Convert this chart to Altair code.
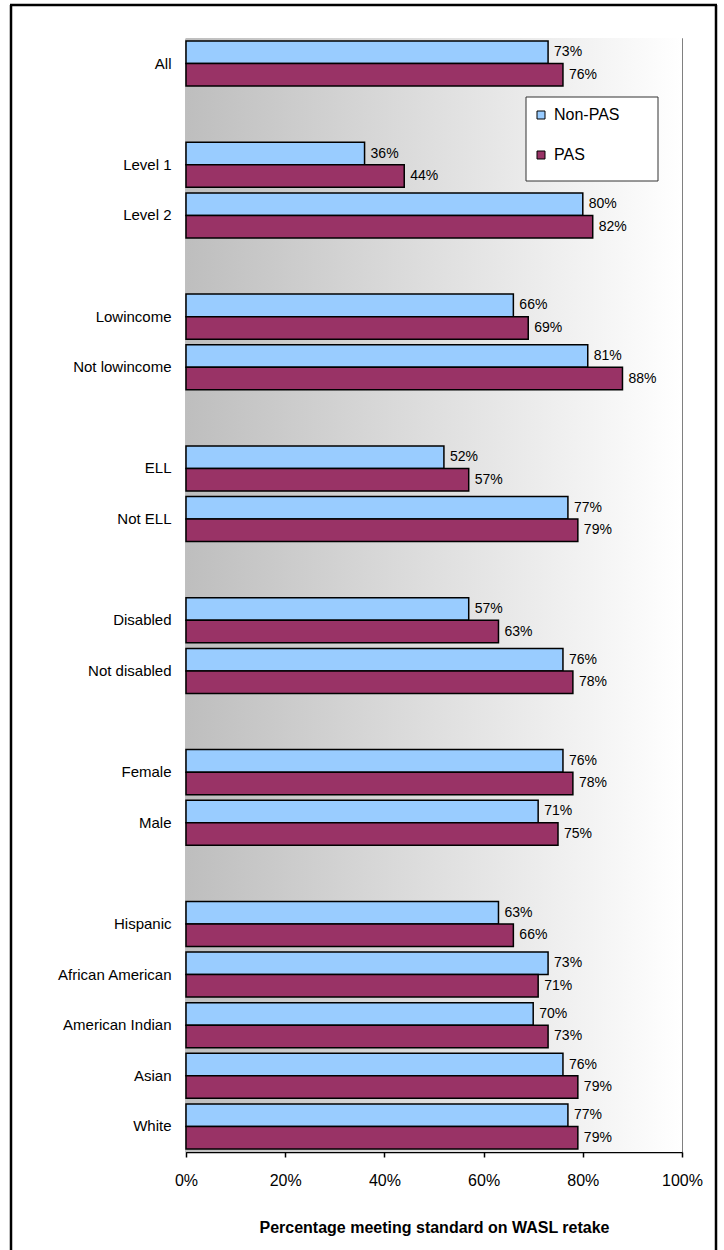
import altair as alt
import pandas as pd

categories = ["All", "Level 1", "Level 2", "Lowincome", "Not lowincome", "ELL", "Not ELL",
              "Disabled", "Not disabled", "Female", "Male", "Hispanic", "African American",
              "American Indian", "Asian", "White"]
non_pas = [73, 36, 80, 66, 81, 52, 77, 57, 76, 76, 71, 63, 73, 70, 76, 77]
pas = [76, 44, 82, 69, 88, 57, 79, 63, 78, 78, 75, 66, 71, 73, 79, 79]
row_order = ["All", "_gap1", "Level 1", "Level 2", "_gap2", "Lowincome", "Not lowincome",
             "_gap3", "ELL", "Not ELL", "_gap4", "Disabled", "Not disabled", "_gap5",
             "Female", "Male", "_gap6", "Hispanic", "African American", "American Indian",
             "Asian", "White"]
series = ["Non-PAS", "PAS"]
colors = ["#99CCFF", "#993366"]
x_ticks = [0, 20, 40, 60, 80, 100]

rows = []
for c, a, b in zip(categories, non_pas, pas):
    rows.append({"category": c, "series": series[0], "value": a, "label": f"{a}%"})
    rows.append({"category": c, "series": series[1], "value": b, "label": f"{b}%"})
df = pd.DataFrame(rows)

FONT = "Liberation Sans"
W, H = 496, 1114

x_enc = alt.X("value:Q", scale=alt.Scale(domain=[0, 100], nice=False),
              axis=alt.Axis(values=x_ticks, labelExpr="datum.value + '%'",
                            title="Percentage meeting standard on WASL retake",
                            titleFontWeight="bold", titleFontSize=16, titleFont=FONT,
                            titleColor="black", titlePadding=31,
                            labelFont=FONT, labelFontSize=16, labelColor="black",
                            labelFlush=False, labelOverlap=False,
                            labelPadding=15, tickSize=5, tickColor="black", tickWidth=1.5,
                            domainColor="black", domainWidth=1.5, grid=False))
y_enc = alt.Y("category:N",
              scale=alt.Scale(domain=row_order, paddingInner=0.11, paddingOuter=0.06),
              axis=alt.Axis(title=None, ticks=False, domainColor="black", domainWidth=1.5,
                            labelExpr="indexof(datum.label, '_gap') == 0 ? '' : datum.label",
                            labelFont=FONT, labelFontSize=15, labelColor="black",
                            labelPadding=15, grid=False))
yoff = alt.YOffset("series:N", scale=alt.Scale(domain=series, paddingInner=0, paddingOuter=0))

background = alt.Chart(alt.Data(values=[{}])).mark_rect(
    color=alt.Gradient(gradient="linear", x1=0, x2=1, y1=0, y2=0,
                       stops=[alt.GradientStop(color="#BEBEBE", offset=0),
                              alt.GradientStop(color="#FFFFFF", offset=1)])
).encode(x=alt.value(0), x2=alt.value(W), y=alt.value(0), y2=alt.value(H))

bars = alt.Chart(df).mark_bar(stroke="black", strokeWidth=1.5).encode(
    x=x_enc, y=y_enc, yOffset=yoff,
    color=alt.Color("series:N", scale=alt.Scale(domain=series, range=colors),
                    legend=alt.Legend(title=None, orient="none", legendX=347, legendY=69,
                                      symbolType="square", symbolSize=64,
                                      symbolStrokeColor="black", symbolStrokeWidth=1,
                                      labelFont=FONT, labelFontSize=16, labelColor="black",
                                      labelOffset=5, rowPadding=24, padding=0))
)

texts = alt.Chart(df).mark_text(align="left", baseline="middle", dx=6, fontSize=14,
                                font=FONT, color="black").encode(
    x="value:Q", y=alt.Y("category:N"), yOffset=alt.YOffset("series:N"), text="label:N")

legend_box = alt.Chart(alt.Data(values=[{}])).mark_rect(
    fill="white", stroke="#333333", strokeWidth=1
).encode(x=alt.value(340), x2=alt.value(472), y=alt.value(59), y2=alt.value(143))

frame_left = alt.Chart(alt.Data(values=[{}])).mark_rule(color="black", strokeWidth=2.5).encode(
    x=alt.value(-175), y=alt.value(-33), y2=alt.value(1212))
frame_top = alt.Chart(alt.Data(values=[{}])).mark_rule(color="black", strokeWidth=2.5).encode(
    x=alt.value(-176), x2=alt.value(531), y=alt.value(-33))
frame_right = alt.Chart(alt.Data(values=[{}])).mark_rule(color="black", strokeWidth=2.5).encode(
    x=alt.value(530), y=alt.value(-33), y2=alt.value(1212))

chart = alt.layer(background, bars, texts, legend_box, frame_left, frame_top, frame_right).properties(
    width=W, height=H, padding={"left": 8, "top": 3, "right": 0, "bottom": 0},
    background="white"
).configure_view(stroke="#808080", strokeWidth=1)

chart.save("out.html", embed_options={"renderer": "svg", "actions": False})
